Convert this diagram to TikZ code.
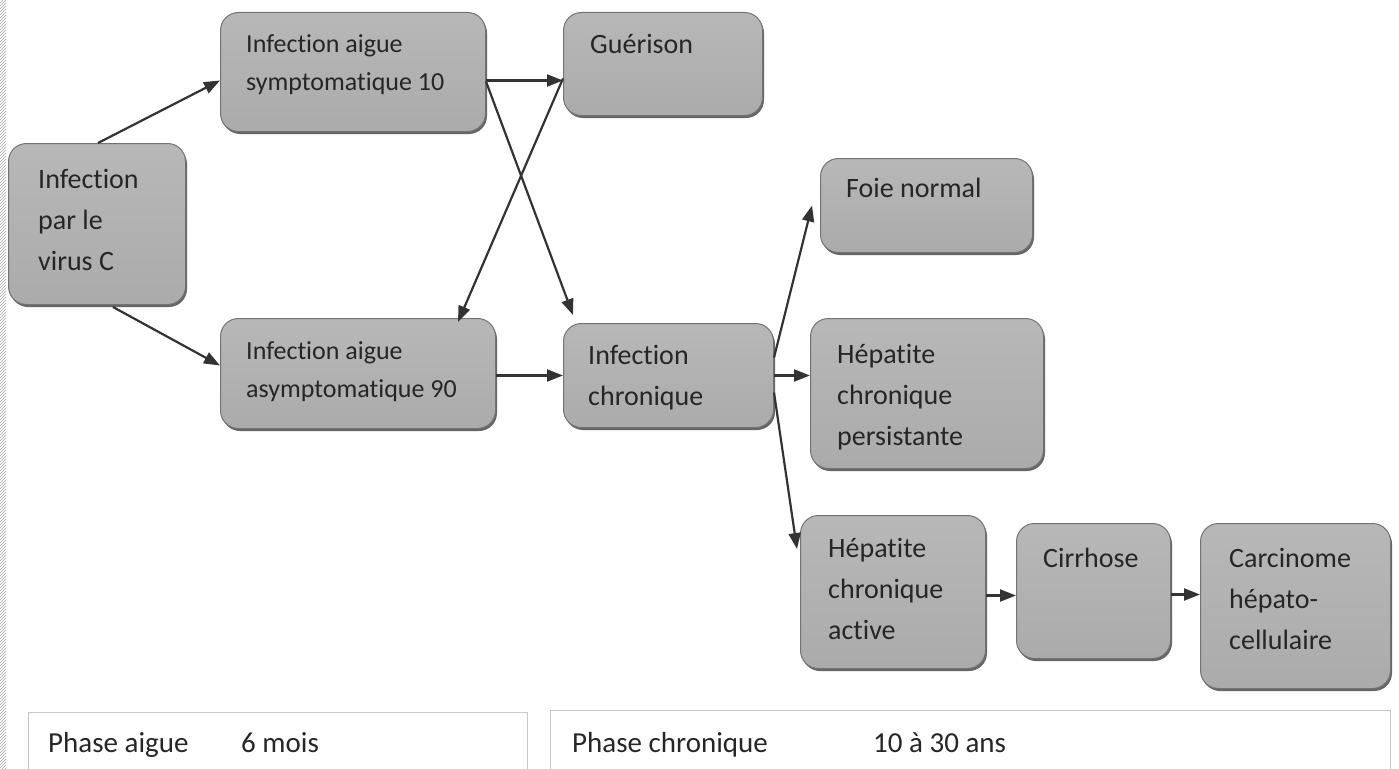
\documentclass[tikz,border=0pt]{standalone}
\usepackage{fontspec}
\setmainfont{Carlito}[Ligatures=NoCommon]
\usetikzlibrary{arrows.meta,shadows,patterns,calc}
\begin{document}
\begin{tikzpicture}[x=1pt,y=-1pt,
  box/.style={rounded corners=18pt, draw=black!55, line width=1pt,
    top color=black!28, middle color=black!38, bottom color=black!33,
    drop shadow={shadow xshift=1.5pt, shadow yshift=-2.5pt, opacity=0.8, fill=black!75},
    inner sep=0pt, anchor=north west},
  lbl/.style={font=\fontsize{28}{41}\selectfont, text=black!85, align=left, inner sep=0pt, anchor=base west},
  lbls/.style={lbl, font=\fontsize{26}{37.5}\selectfont},
  lblp/.style={lbl, font=\fontsize{29}{34}\selectfont},
  arr/.style={draw=black!80, line width=2.2pt, -{Triangle[length=16pt,width=12pt]}},
  phase/.style={draw=black!22, line width=1.2pt, fill=white, inner sep=0pt, anchor=north west}
]
\useasboundingbox (0,0) rectangle (1399,768);
\fill[white] (0,0) rectangle (1399,768);
\fill[pattern=north east lines, pattern color=black!35] (0,0) rectangle (6,768);

% boxes
\node[box, minimum width=177pt, minimum height=161pt] (v) at (8,143) {};
\node[box, minimum width=265pt, minimum height=119pt] (s1) at (220,12) {};
\node[box, minimum width=199pt, minimum height=103pt] (g) at (563,12) {};
\node[box, minimum width=212pt, minimum height=94pt] (f) at (820,158) {};
\node[box, minimum width=275pt, minimum height=110pt] (s2) at (220,318) {};
\node[box, minimum width=210pt, minimum height=104pt] (c) at (563,323) {};
\node[box, minimum width=233pt, minimum height=150pt] (p) at (810,318) {};
\node[box, minimum width=185pt, minimum height=153pt] (a) at (800,515) {};
\node[box, minimum width=154pt, minimum height=135pt] (ci) at (1016,523) {};
\node[box, minimum width=190pt, minimum height=165pt] (ca) at (1200,523) {};

% texts (multi-line: anchored at the baseline of the last line)
\node[lbl] (tv) at (38,270) {Infection\\par le\\virus C};
\node[lbls] (ts1) at (246,90) {Infection aigue\\symptomatique 10};
\node[lbl] (tg) at (590,53) {Guérison};
\node[lbl] (tf) at (846,197) {Foie normal};
\node[lbls] (ts2) at (246,397) {Infection aigue\\asymptomatique 90};
\node[lbl] (tc) at (588,405) {Infection\\chronique};
\node[lbl] (tp) at (837,445) {Hépatite\\chronique\\persistante};
\node[lbl] (ta) at (828,639) {Hépatite\\chronique\\active};
\node[lbl] (tci) at (1043,567) {Cirrhose};
\node[lbl] (tca) at (1229,649) {Carcinome\\hépato-\\cellulaire};

% phase boxes
\node[phase, minimum width=499pt, minimum height=80pt] (pa) at (28,712) {};
\node[phase, minimum width=840pt, minimum height=80pt] (pc) at (550,710) {};
\node[lblp] (pa1) at (48,752) {Phase aigue};
\node[lblp] (pa2) at (241,752) {6 mois};
\node[lblp] (pc1) at (572,752) {Phase chronique};
\node[lblp] (pc2) at (873,752) {10 à 30 ans};

% arrows
\draw[arr] ([xshift=90pt]v.north west) -- ([yshift=-8.5pt]s1.west);
\draw[arr] ([xshift=105pt,yshift=-2pt]v.south west) -- ([yshift=8pt]s2.west);
\draw[arr] ([yshift=-8.5pt]s1.east) -- ([yshift=-8.5pt]s1.east -| g.west);
\draw[arr] ([yshift=-9.5pt]s1.east) -- ([xshift=10pt,yshift=8pt]c.north west);
\draw[arr] ([yshift=-14.5pt]g.west) -- ([xshift=-38pt,yshift=-4pt]s2.north east);
\draw[arr] ([yshift=-2pt]s2.east) -- (c.west);
\draw[arr] ([yshift=18pt]c.east) -- ([xshift=-8pt]f.west);
\draw[arr] (c.east) -- (c.east -| p.west);
\draw[arr] ([yshift=-17pt]c.east) -- ([xshift=-3pt,yshift=43pt]a.west);
\draw[arr] ([yshift=-3.5pt]a.east) -- ([yshift=-3.5pt]a.east -| ci.west);
\draw[arr] ([yshift=-3.5pt]ci.east) -- ([yshift=-3.5pt]ci.east -| ca.west);
\end{tikzpicture}
\end{document}
